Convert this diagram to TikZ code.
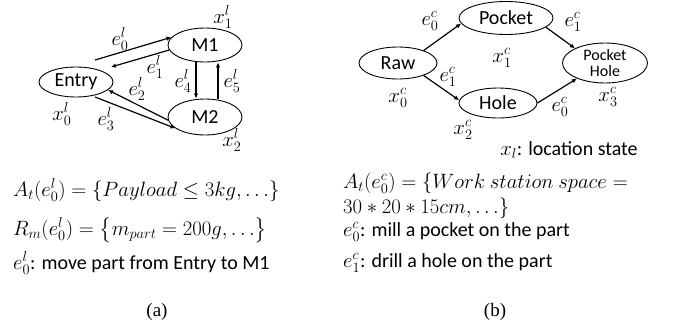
\documentclass[tikz,border=0pt]{standalone}
\usepackage{amsmath,amssymb}
\usepackage{fontspec}
\setmainfont{Carlito}
\newfontfamily\capfont{Liberation Serif}
\usetikzlibrary{shapes.geometric,arrows.meta}

\tikzset{
  state/.style={ellipse, draw, line width=0.9pt, inner sep=0pt},
  trans/.style={-{Latex[length=5pt,width=4.5pt]}, line width=1.2pt},
  elbl/.style={inner sep=1pt, font=\fontsize{22}{26}\selectfont},
  txt/.style={anchor=west, inner sep=0pt},
  mtxt/.style={txt, font=\fontsize{21}{25}\selectfont},
}

\begin{document}
\begin{tikzpicture}[x=1pt,y=-1pt,font=\fontsize{20}{24}\selectfont]
	\useasboundingbox (0,0) rectangle (687,332);

	% (a) location graph
	\node[state, minimum width=74pt, minimum height=30pt] (entry) at (76,82) {Entry};
	\node[state, minimum width=74pt, minimum height=34pt] (mone) at (205,45) {M1};
	\node[state, minimum width=74pt, minimum height=36pt] (mtwo) at (205,117) {M2};
	\node[elbl] (xal) at (223,17) {$x_1^l$};
	\node[elbl] (xbl) at (62,114) {$x_0^l$};
	\node[elbl] (xcl) at (232,140) {$x_2^l$};

	\draw[trans] ([shift={(19,-22)}]entry.center) -- (mone.167);
	\draw[trans] (mone.188) -- ([shift={(35,-15)}]entry.center);
	\draw[trans] (mtwo.185) -- (entry.-14);
	\draw[trans] ([shift={(19,15)}]entry.center) -- (mtwo.201);
	\draw[trans] ([xshift=-9pt]mone.south) -- ([xshift=-9pt]mtwo.north);
	\draw[trans] ([xshift=13pt]mtwo.north) -- ([xshift=13pt]mone.south);
	\node[elbl] (ezl) at (120,39) {$e_0^l$};
	\node[elbl] (eol) at (155,67) {$e_1^l$};
	\node[elbl] (etl) at (137,89) {$e_2^l$};
	\node[elbl] (ehl) at (106,119) {$e_3^l$};
	\node[elbl] (efl) at (183,81) {$e_4^l$};
	\node[elbl] (evl) at (232,81) {$e_5^l$};

	\node[mtxt] (atl) at (13,190) {$A_t(e_0^l)=\{Payload\leq 3kg,\ldots\}$};
	\node[mtxt] (rml) at (13,230) {$R_m(e_0^l)=\bigl\{m_{part}=200g,\ldots\bigr\}$};
	\node[txt] (dsl) at (13,263) {$e_0^l$: move part from Entry to M1};
	\node (capa) at (157,312) {\capfont\fontsize{19}{22}\selectfont (a)};

	% (b) feature graph
	\node[state, minimum width=78pt, minimum height=32pt] (raw) at (398,63) {Raw};
	\node[state, minimum width=94pt, minimum height=33pt] (pocket) at (506,18) {Pocket};
	\node[state, minimum width=78pt, minimum height=30pt] (hole) at (498,103) {Hole};
	\node[state, minimum width=85pt, minimum height=40pt, align=center,
		font=\fontsize{16}{16}\selectfont] (pockethole) at (605,63) {Pocket\\Hole};

	\draw[trans] (raw.26) -- (pocket.187);
	\draw[trans] (raw.-26) -- (hole.176);
	\draw[trans] (pocket.-13) -- (pockethole.154);
	\draw[trans] (hole.east) -- (pockethole.209);
	\node[elbl] (ezc) at (430,21) {$e_0^c$};
	\node[elbl] (eoc) at (573,22) {$e_1^c$};
	\node[elbl] (eac) at (448,77) {$e_1^c$};
	\node[elbl] (ebc) at (560,107) {$e_0^c$};
	\node[elbl] (xac) at (502,58) {$x_1^c$};
	\node[elbl] (xbc) at (398,98) {$x_0^c$};
	\node[elbl] (xcc) at (463,130) {$x_2^c$};
	\node[elbl] (xdc) at (608,97) {$x_3^c$};
	\node (locs) at (569,150) {{\fontsize{22}{26}\selectfont$x_l$}: location state};

	\node[mtxt] (atc) at (343,183) {$A_t(e_0^c)=\{Work\ station\ space=$};
	\node[mtxt] (dmc) at (343,208) {$30*20*15cm,\ldots\}$};
	\node[txt] (dzc) at (343,232) {$e_0^c$: mill a pocket on the part};
	\node[txt] (doc) at (343,263) {$e_1^c$: drill a hole on the part};
	\node (capb) at (495,312) {\capfont\fontsize{19}{22}\selectfont (b)};
\end{tikzpicture}
\end{document}
